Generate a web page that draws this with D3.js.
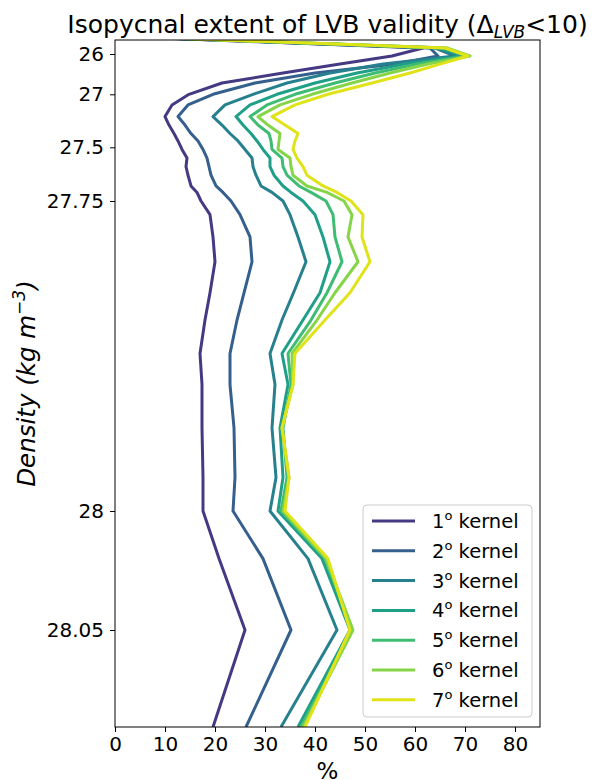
<!DOCTYPE html>
<html><head><meta charset="utf-8">
<script src="https://cdn.jsdelivr.net/npm/d3@7"></script>
<style>
body{margin:0;background:#fff;}
svg{font-family:"DejaVu Sans",sans-serif;}
</style></head>
<body><svg id="chart" width="593" height="780"></svg>
<script>
// ---- data ----
const densityLevels = [25.6, 25.85, 26.05, 26.25, 26.47, 26.72, 27.0, 27.1, 27.21, 27.29, 27.37, 27.44, 27.51, 27.55, 27.59, 27.63, 27.68, 27.71, 27.75, 27.761, 27.779, 27.799, 27.824, 27.846, 27.873, 27.898, 27.933, 27.973, 28.0, 28.02, 28.05, 28.1];
const kernel1 = [9, 61.6, 55.4, 45, 33.6, 21.4, 14.8, 11.4, 10, 10.8, 11.8, 12.6, 13.4, 14.4, 14.2, 14.6, 15.2, 16.4, 17.2, 19, 19.6, 20, 19, 18, 17, 17.4, 17.4, 17.6, 17.6, 20.8, 26, 19.6];
const kernel2 = [9.5, 63, 64.6, 56, 40, 28, 19.6, 14.6, 12.6, 14, 15.2, 16.6, 17.6, 18.4, 18.8, 19.2, 20.2, 21.6, 23.2, 25, 27, 27.4, 25.8, 24.4, 23, 23, 23.8, 24, 23.6, 29.6, 35.2, 26.2];
const kernel3 = [10, 64, 68, 53.6, 43, 34.4, 27.6, 22, 19.6, 21.4, 23, 24.6, 26, 27.4, 27.6, 28.2, 29.2, 31.4, 33.6, 35, 36.6, 38.2, 35.7, 33.4, 31, 32, 31.4, 32.2, 31, 38.6, 44.4, 33.2];
const kernel4 = [10, 65, 69.6, 58, 48.4, 40, 32.4, 27, 24.2, 25.6, 27.2, 28.4, 29.6, 31, 31, 31.8, 33.6, 35.2, 37.6, 40, 41.6, 43, 41, 37.6, 33.4, 34.6, 33, 33.6, 32.6, 41.4, 47, 36.6];
const kernel5 = [10.5, 66, 70.4, 60.4, 52, 44, 36, 30.4, 27, 28.6, 30.8, 31.2, 31.4, 33.4, 33.6, 34.4, 36.8, 39.2, 42.2, 43.6, 44, 45.4, 42.4, 39.2, 34.6, 35.2, 33.6, 34.4, 33.2, 42, 47.4, 37.2];
const kernel6 = [10.5, 66.4, 71, 62.6, 55, 47.4, 39.4, 33, 28.6, 30.6, 33, 32.8, 32.6, 35, 35.2, 35.6, 38.4, 42.4, 45.8, 47.4, 46.6, 48.6, 44, 40.4, 35.4, 35.6, 33.4, 34.8, 33.6, 42.2, 47.6, 37.6];
const kernel7 = [11, 66, 70.6, 65, 59, 51.4, 42.6, 36, 31.4, 34, 36.6, 36, 35.6, 36.4, 37.6, 38.4, 41.6, 44.4, 47.2, 49.6, 49.4, 51, 47, 42, 36, 35.6, 33.4, 34.8, 34, 42.6, 47, 38];
const seriesNames = ["1", "2", "3", "4", "5", "6", "7"];
const yTickValues = [26, 27, 27.5, 27.75, 28, 28.05];
const xTickValues = [0, 10, 20, 30, 40, 50, 60, 70, 80];

// ---- layout ----
const allSeries = [kernel1, kernel2, kernel3, kernel4, kernel5, kernel6, kernel7];
const colorT = [0.17, 0.3, 0.43, 0.56, 0.69, 0.82, 0.95];
const pL = 115, pR = 540, pT = 40, pB = 727;

const svg = d3.select("#chart");
const x = d3.scaleLinear().domain([0, 85]).range([pL, pR]);
// non-uniform density axis (piecewise linear between labelled isopycnals)
const y = d3.scaleLinear()
  .domain([25.65, 26, 27, 27.5, 27.75, 28, 28.05, 28.1])
  .range([pT, 54, 94.3, 147.3, 201, 511, 630, pB]);

svg.append("defs").append("clipPath").attr("id", "clip")
  .append("rect").attr("x", pL).attr("y", pT)
  .attr("width", pR - pL).attr("height", pB - pT);

const line = d3.line().x(d => x(d[1])).y(d => y(d[0]));
const g = svg.append("g").attr("clip-path", "url(#clip)");
allSeries.forEach((s, i) => {
  g.append("path")
    .datum(densityLevels.map((d, j) => [d, s[j]]))
    .attr("fill", "none")
    .attr("stroke", d3.interpolateViridis(colorT[i]))
    .attr("stroke-width", 3)
    .attr("stroke-linejoin", "round")
    .attr("d", line);
});

// frame
svg.append("rect").attr("x", pL).attr("y", pT)
  .attr("width", pR - pL).attr("height", pB - pT)
  .attr("fill", "none").attr("stroke", "#000").attr("stroke-width", 1);

// axes
const yAxis = svg.append("g").attr("transform", `translate(${pL},0)`)
  .call(d3.axisLeft(y).tickValues(yTickValues).tickFormat(d => String(d)).tickSize(5).tickPadding(6));
const xAxis = svg.append("g").attr("transform", `translate(0,${pB})`)
  .call(d3.axisBottom(x).tickValues(xTickValues).tickFormat(d => String(d)).tickSize(5).tickPadding(5));
[yAxis, xAxis].forEach(a => {
  a.select(".domain").remove();
  a.selectAll("text").attr("font-size", 20).attr("font-family", "DejaVu Sans").attr("fill", "#000");
  a.selectAll("line").attr("stroke", "#000");
});

// title
const title = svg.append("text").attr("x", (pL + pR) / 2).attr("y", 33)
  .attr("text-anchor", "middle").attr("font-size", 25).attr("fill", "#000");
title.append("tspan").text("Isopycnal extent of LVB validity (Δ");
title.append("tspan").attr("font-size", 17).attr("font-style", "italic").attr("dy", 5).text("LVB");
title.append("tspan").attr("dy", -5).text("<10)");

// axis labels
const yl = svg.append("text")
  .attr("transform", `translate(35,${(pT + pB) / 2}) rotate(-90)`)
  .attr("text-anchor", "middle").attr("font-size", 24.5).attr("fill", "#000");
yl.append("tspan").attr("font-style", "italic").text("Density (kg m");
yl.append("tspan").attr("font-size", 17).attr("dy", -10).attr("font-style", "italic").text("−3");
yl.append("tspan").attr("dy", 10).attr("font-style", "italic").text(")");

svg.append("text").attr("x", (pL + pR) / 2).attr("y", 779)
  .attr("text-anchor", "middle").attr("font-size", 23).attr("fill", "#000").text("%");

// legend
const lg = svg.append("g");
lg.append("rect").attr("x", 363).attr("y", 505).attr("width", 169).attr("height", 212)
  .attr("rx", 4).attr("fill", "#fff").attr("fill-opacity", 0.8)
  .attr("stroke", "#ccc").attr("stroke-width", 1);
seriesNames.forEach((n, i) => {
  const yy = 521 + i * 29.8;
  lg.append("line").attr("x1", 372).attr("x2", 415).attr("y1", yy).attr("y2", yy)
    .attr("stroke", d3.interpolateViridis(colorT[i])).attr("stroke-width", 3);
  const t = lg.append("text").attr("x", 432).attr("y", yy + 7).attr("font-size", 19.5).attr("fill", "#000");
  t.append("tspan").text(n);
  t.append("tspan").attr("font-size", 13).attr("dy", -8).text("o");
  t.append("tspan").attr("dy", 8).text(" kernel");
});
</script>
</body></html>
